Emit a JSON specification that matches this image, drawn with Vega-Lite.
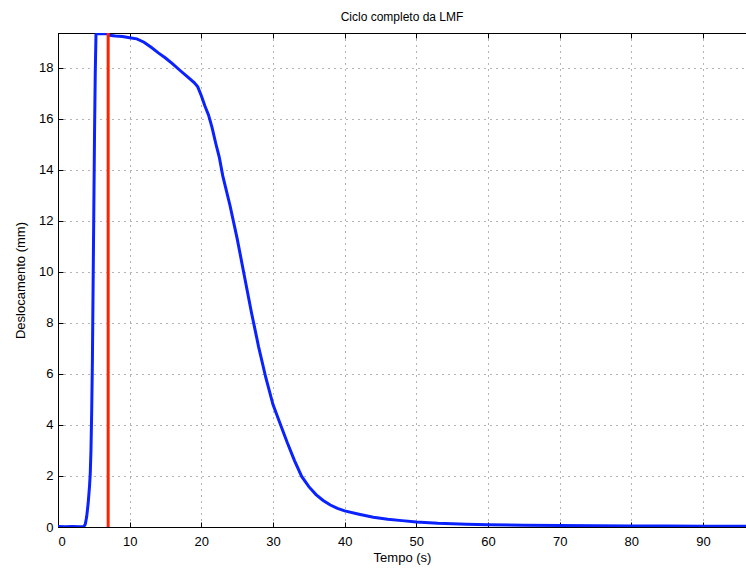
{
  "$schema": "https://vega.github.io/schema/vega-lite/v6.json",
  "autosize": {"type": "none"},
  "padding": {"left": 58, "top": 33, "right": 0, "bottom": 42},
  "width": 688,
  "height": 494,
  "background": "white",
  "title": {"text": "Ciclo completo da LMF", "font": "Liberation Sans", "fontSize": 12, "fontWeight": "normal", "color": "#000", "anchor": "middle", "offset": 8},
  "config": {
    "view": {"stroke": "#000", "strokeWidth": 1},
    "axis": {
      "domainColor": "#000", "domainWidth": 1,
      "tickColor": "#000", "tickSize": -5, "tickWidth": 1,
      "labelFont": "Liberation Sans", "labelFontSize": 13, "labelColor": "#000",
      "titleFont": "Liberation Sans", "titleFontSize": 13, "titleFontWeight": "normal", "titleColor": "#000",
      "gridColor": "#444", "gridDash": [1, 5], "gridWidth": 1, "gridOpacity": 0.8
    }
  },
  "layer": [
    {
      "data": {"values": [
        {"t": 0, "d": 0.02}, {"t": 1, "d": 0.01}, {"t": 2, "d": 0.02}, {"t": 3, "d": 0.01}, {"t": 3.6, "d": 0.02},
        {"t": 3.8, "d": 0.1}, {"t": 4.0, "d": 0.4}, {"t": 4.2, "d": 0.9}, {"t": 4.4, "d": 1.6}, {"t": 4.5, "d": 2.1},
        {"t": 4.6, "d": 3.0}, {"t": 4.7, "d": 4.5}, {"t": 4.8, "d": 6.5}, {"t": 4.9, "d": 9.5}, {"t": 5.0, "d": 12.5},
        {"t": 5.1, "d": 15.5}, {"t": 5.2, "d": 17.8}, {"t": 5.3, "d": 19.3}, {"t": 5.45, "d": 19.33}, {"t": 7.0, "d": 19.33},
        {"t": 7.2, "d": 19.27}, {"t": 8, "d": 19.24}, {"t": 9, "d": 19.22}, {"t": 10, "d": 19.17}, {"t": 11, "d": 19.13},
        {"t": 12, "d": 19.0}, {"t": 13, "d": 18.8}, {"t": 14, "d": 18.58}, {"t": 15, "d": 18.38}, {"t": 16, "d": 18.15},
        {"t": 17, "d": 17.9}, {"t": 18, "d": 17.66}, {"t": 19, "d": 17.42}, {"t": 19.5, "d": 17.25}, {"t": 20, "d": 16.9},
        {"t": 20.5, "d": 16.5}, {"t": 21, "d": 16.15}, {"t": 21.5, "d": 15.65}, {"t": 22, "d": 15.05}, {"t": 22.5, "d": 14.5},
        {"t": 23, "d": 13.75}, {"t": 24, "d": 12.6}, {"t": 25, "d": 11.3}, {"t": 26, "d": 9.85}, {"t": 27, "d": 8.4},
        {"t": 28, "d": 7.05}, {"t": 29, "d": 5.85}, {"t": 30, "d": 4.8}, {"t": 31, "d": 4.05}, {"t": 32, "d": 3.3},
        {"t": 33, "d": 2.6}, {"t": 34, "d": 1.98}, {"t": 35, "d": 1.58}, {"t": 36, "d": 1.27}, {"t": 37, "d": 1.04},
        {"t": 38, "d": 0.86}, {"t": 39, "d": 0.73}, {"t": 40, "d": 0.63}, {"t": 42, "d": 0.5}, {"t": 44, "d": 0.38},
        {"t": 46, "d": 0.3}, {"t": 48, "d": 0.25}, {"t": 50, "d": 0.2}, {"t": 53, "d": 0.15}, {"t": 57, "d": 0.11},
        {"t": 60, "d": 0.09}, {"t": 65, "d": 0.07}, {"t": 70, "d": 0.06}, {"t": 75, "d": 0.05}, {"t": 80, "d": 0.04},
        {"t": 85, "d": 0.04}, {"t": 90, "d": 0.03}, {"t": 96, "d": 0.03}
      ]},
      "mark": {"type": "line", "color": "#0a22ff", "strokeWidth": 3, "clip": true},
      "encoding": {
        "x": {"field": "t", "type": "quantitative", "scale": {"domain": [0, 96], "nice": false, "zero": false},
              "axis": {"orient": "bottom", "values": [0, 10, 20, 30, 40, 50, 60, 70, 80, 90], "grid": true, "labelPadding": 13, "title": "Tempo (s)", "titlePadding": 3}},
        "y": {"field": "d", "type": "quantitative", "scale": {"domain": [0, 19.36], "nice": false, "zero": false},
              "axis": {"orient": "left", "values": [0, 2, 4, 6, 8, 10, 12, 14, 16, 18], "grid": true, "labelPadding": 10, "title": "Deslocamento (mm)", "titlePadding": 11}}
      }
    },
    {
      "data": {"values": [{"t": 7}]},
      "mark": {"type": "rule", "color": "#ff2200", "strokeWidth": 3},
      "encoding": {
        "x": {"field": "t", "type": "quantitative",
              "axis": {"orient": "top", "values": [0, 10, 20, 30, 40, 50, 60, 70, 80, 90], "grid": false, "labels": false, "title": null}}
      }
    }
  ],
  "resolve": {"axis": {"x": "independent"}}
}
